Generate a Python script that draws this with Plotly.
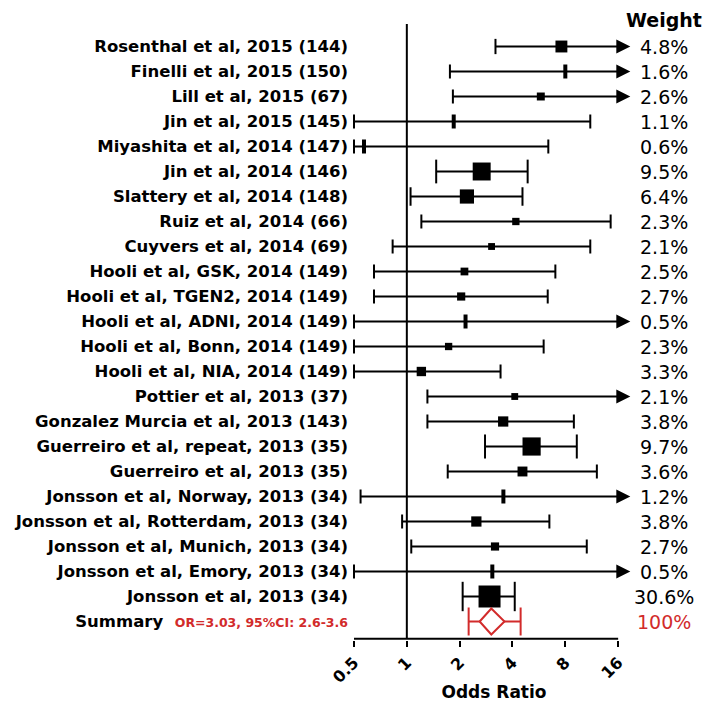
import math
import plotly.graph_objects as go

# ---------------- data ----------------
studies = [
    "Rosenthal et al, 2015 (144)",
    "Finelli et al, 2015 (150)",
    "Lill et al, 2015 (67)",
    "Jin et al, 2015 (145)",
    "Miyashita et al, 2014 (147)",
    "Jin et al, 2014 (146)",
    "Slattery et al, 2014 (148)",
    "Ruiz et al, 2014 (66)",
    "Cuyvers et al, 2014 (69)",
    "Hooli et al, GSK, 2014 (149)",
    "Hooli et al, TGEN2, 2014 (149)",
    "Hooli et al, ADNI, 2014 (149)",
    "Hooli et al, Bonn, 2014 (149)",
    "Hooli et al, NIA, 2014 (149)",
    "Pottier et al, 2013 (37)",
    "Gonzalez Murcia et al, 2013 (143)",
    "Guerreiro et al, repeat, 2013 (35)",
    "Guerreiro et al, 2013 (35)",
    "Jonsson et al, Norway, 2013 (34)",
    "Jonsson et al, Rotterdam, 2013 (34)",
    "Jonsson et al, Munich, 2013 (34)",
    "Jonsson et al, Emory, 2013 (34)",
    "Jonsson et al, 2013 (34)",
]
odds_ratio = [7.6, 8.0, 5.8, 1.85, 0.57, 2.67, 2.2, 4.18, 3.04, 2.13, 2.04, 2.16,
              1.73, 1.21, 4.12, 3.54, 5.14, 4.56, 3.55, 2.49, 3.18, 3.07, 2.96]
ci_lower = [3.2, 1.76, 1.83, 0.5, 0.5, 1.47, 1.05, 1.21, 0.83, 0.65, 0.65, 0.5,
            0.5, 0.5, 1.31, 1.31, 2.79, 1.71, 0.545, 0.94, 1.06, 0.5, 2.08]
# None = upper limit beyond the axis (drawn as an arrow)
ci_upper = [None, None, None, 11.1, 6.4, 4.88, 4.56, 14.5, 11.1, 7.02, 6.35, None,
            6.02, 3.42, None, 8.95, 9.3, 12.1, None, 6.49, 10.6, None, 4.12]
weight_pct = [4.8, 1.6, 2.6, 1.1, 0.6, 9.5, 6.4, 2.3, 2.1, 2.5, 2.7, 0.5,
              2.3, 3.3, 2.1, 3.8, 9.7, 3.6, 1.2, 3.8, 2.7, 0.5, 30.6]

summary_label = "Summary"
summary_text = "OR=3.03, 95%CI: 2.6-3.6"
summary_or = 3.03
summary_ci = [2.6, 3.6]
summary_whiskers = [2.25, 4.45]
summary_weight = "100%"

x_ticks = [0.5, 1, 2, 4, 8, 16]
x_tick_labels = ["0.5", "1", "2", "4", "8", "16"]

# ---------------- styling ----------------
BLACK = "#000000"
RED = "#d22b2b"
FONT = "DejaVu Sans"

n = len(studies)
rows = list(range(1, n + 1))
sum_row = n + 1
x_min, x_max = x_ticks[0], x_ticks[-1]
x_view_max = x_max * 2 ** 0.3          # room for the arrow heads
arrow_tip = x_max * 2 ** 0.23
y_top, y_bottom = 0.1, sum_row + 0.69

sq_size = [min(22, max(4, 6.8 * math.sqrt(w) - 3)) for w in weight_pct]
cap_size = [max(10, s - 1) for s in sq_size]
is_tick = [w < 2 for w in weight_pct]

fig = go.Figure()

# reference line at OR = 1
fig.add_trace(go.Scatter(x=[1, 1], y=[y_top, y_bottom], mode="lines",
                         line=dict(color=BLACK, width=2), hoverinfo="skip"))
# x axis line (0.5 .. 16 only)
fig.add_trace(go.Scatter(x=[x_min, x_max], y=[y_bottom, y_bottom], mode="lines",
                         line=dict(color=BLACK, width=2), hoverinfo="skip"))

# CI lines
lx, ly = [], []
for r, lo, hi in zip(rows, ci_lower, ci_upper):
    lx += [lo, hi if hi is not None else arrow_tip * 0.9, None]
    ly += [r, r, None]
fig.add_trace(go.Scatter(x=lx, y=ly, mode="lines",
                         line=dict(color=BLACK, width=2), hoverinfo="skip"))

# caps
cx, cy, cs = [], [], []
for r, lo, hi, s in zip(rows, ci_lower, ci_upper, cap_size):
    cx.append(lo); cy.append(r); cs.append(s)
    if hi is not None:
        cx.append(hi); cy.append(r); cs.append(s)
fig.add_trace(go.Scatter(x=cx, y=cy, mode="markers", cliponaxis=False,
                         marker=dict(symbol="line-ns", size=cs, opacity=1,
                                     line=dict(color=BLACK, width=2)),
                         hoverinfo="skip"))

# arrows for upper limits beyond the axis
ax_, ay_ = [], []
for r, hi in zip(rows, ci_upper):
    if hi is None:
        ax_.append(arrow_tip); ay_.append(r)
fig.add_trace(go.Scatter(x=ax_, y=ay_, mode="markers", cliponaxis=False,
                         marker=dict(symbol="arrow-right", size=14, color=BLACK,
                                     opacity=1, line=dict(width=0)),
                         hoverinfo="skip"))

# point estimates: ticks for very small weights, squares otherwise
tx = [v for v, t in zip(odds_ratio, is_tick) if t]
ty = [r for r, t in zip(rows, is_tick) if t]
fig.add_trace(go.Scatter(x=tx, y=ty, mode="markers", cliponaxis=False,
                         marker=dict(symbol="line-ns", size=10, opacity=1,
                                     line=dict(color=BLACK, width=4)),
                         hoverinfo="skip"))
qx = [v for v, t in zip(odds_ratio, is_tick) if not t]
qy = [r for r, t in zip(rows, is_tick) if not t]
qs = [s for s, t in zip(sq_size, is_tick) if not t]
fig.add_trace(go.Scatter(x=qx, y=qy, mode="markers", cliponaxis=False,
                         marker=dict(symbol="square", size=qs, color=BLACK,
                                     opacity=1, line=dict(width=0)),
                         hoverinfo="skip"))

# summary whiskers
fig.add_trace(go.Scatter(x=summary_whiskers, y=[sum_row, sum_row], mode="lines+markers",
                         cliponaxis=False,
                         line=dict(color=RED, width=2),
                         marker=dict(symbol="line-ns", size=20, opacity=1,
                                     line=dict(color=RED, width=2)),
                         hoverinfo="skip"))
# summary diamond
dh = 0.52
fig.add_trace(go.Scatter(
    x=[summary_ci[0], summary_or, summary_ci[1], summary_or, summary_ci[0]],
    y=[sum_row, sum_row - dh, sum_row, sum_row + dh, sum_row],
    mode="lines", fill="toself", fillcolor="white",
    line=dict(color=RED, width=2), hoverinfo="skip"))

# weight column
PLOT_L, PLOT_R = 354, 634
wx = (664 - PLOT_L) / (PLOT_R - PLOT_L)
annotations = [dict(text="<b>Weight</b>", xref="paper", yref="paper", x=wx, y=1.0,
                    xanchor="center", yanchor="bottom", showarrow=False, yshift=-9,
                    font=dict(family=FONT, size=19, color=BLACK))]
for r, w in zip(rows, weight_pct):
    annotations.append(dict(text=f"{w}%", xref="paper", yref="y", x=wx, y=r,
                            xanchor="center", yanchor="middle", showarrow=False,
                            font=dict(family=FONT, size=19, color=BLACK)))
annotations.append(dict(text=summary_weight, xref="paper", yref="y", x=wx, y=sum_row,
                        xanchor="center", yanchor="middle", showarrow=False,
                        font=dict(family=FONT, size=19, color=RED)))

nb = "\u00a0"
tick_text = studies + [f"{summary_label}{nb}{nb}<span style='color:{RED};font-size:12.5px'>{summary_text}</span>"]

fig.update_layout(
    width=707, height=702,
    margin=dict(l=PLOT_L, r=707 - PLOT_R, t=24, b=62),
    paper_bgcolor="white", plot_bgcolor="white",
    showlegend=False,
    annotations=annotations,
    xaxis=dict(type="log", range=[math.log10(x_min), math.log10(x_view_max)],
               automargin=False,
               tickvals=x_ticks, ticktext=x_tick_labels, tickangle=-45,
               ticks="outside", ticklen=6, tickwidth=2, tickcolor=BLACK,
               showline=False, showgrid=False, zeroline=False,
               tickfont=dict(family=FONT, size=16, color=BLACK, weight="bold"),
               title=dict(text="Odds Ratio", standoff=6,
                          font=dict(family=FONT, size=17, color=BLACK, weight="bold"))),
    yaxis=dict(range=[y_bottom + 0.05, y_top], tickvals=rows + [sum_row], ticktext=tick_text,
               automargin=False,
               showgrid=False, zeroline=False, showline=False, ticks="",
               ticklabelstandoff=5,
               tickfont=dict(family=FONT, size=16.5, color=BLACK, weight="bold")),
)

fig.write_html("out.html", config={"displayModeBar": False},
               post_script="document.body.style.margin='0px';document.body.style.overflow='hidden';")
